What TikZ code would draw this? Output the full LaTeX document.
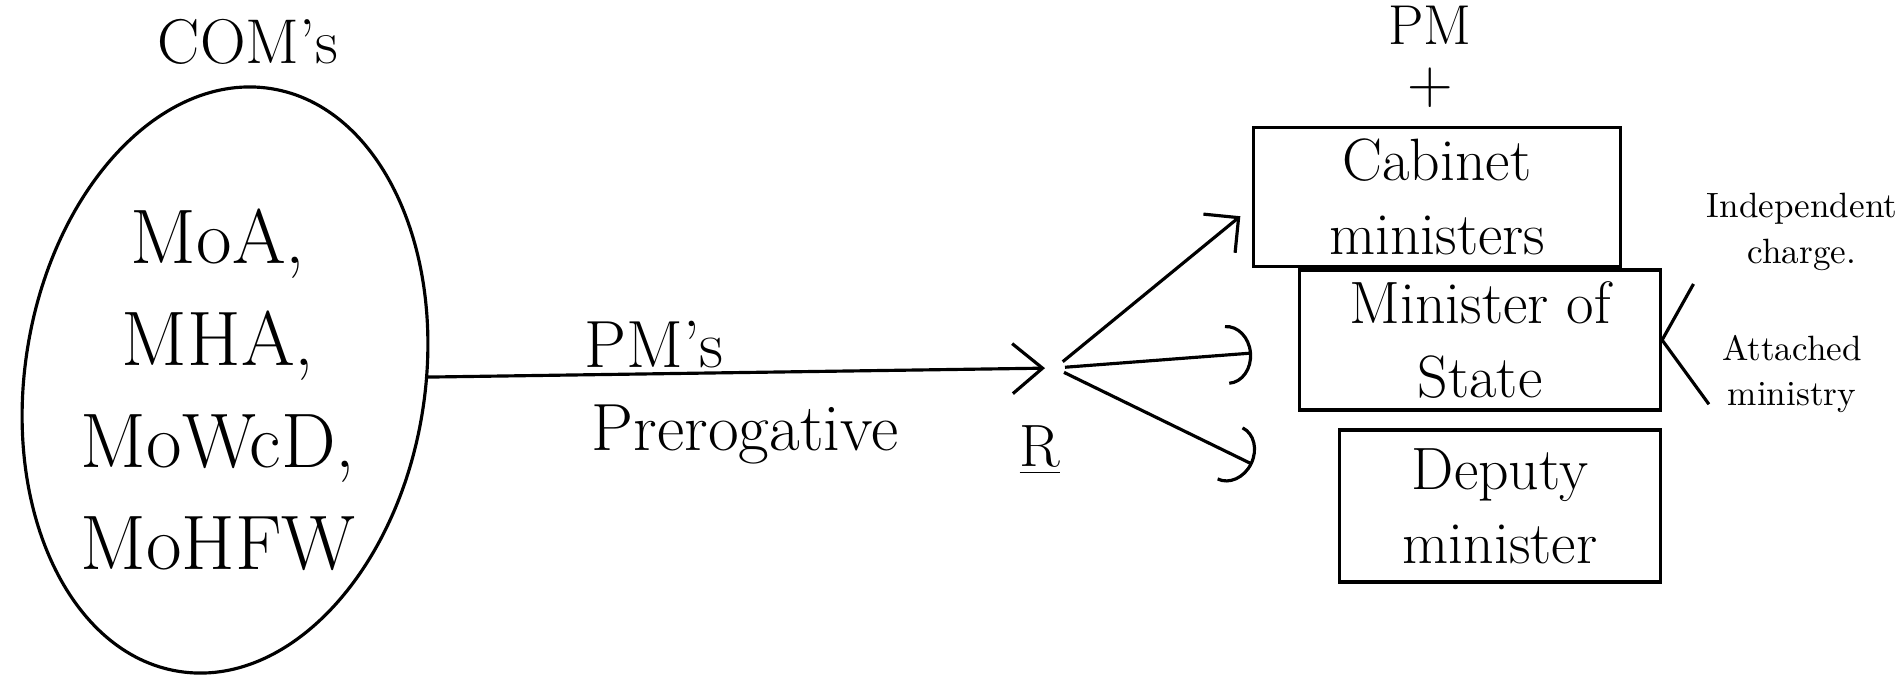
\documentclass[tikz,border=0pt]{standalone}
\usepackage{tikz}
\usetikzlibrary{arrows.meta,positioning,shapes.geometric}
\tikzset{
  mins box/.style={draw, line width=0.9pt, align=center, font=\fontsize{17}{21}\selectfont},
  mins edge/.style={-{Arc Barb[length=2.5mm,width=6mm]}, line width=0.9pt, shorten <=1mm},
  mins label/.style={font=\fontsize{19}{23}\selectfont},
  side note/.style={align=center, font=\fontsize{10}{13}\selectfont},
}

\begin{document}
\begin{tikzpicture}[line width=0.9pt]
  \useasboundingbox (0,0) rectangle (19,-6.78);
  % council of ministers
  \node[draw, ellipse, rotate=-9, minimum width=4.0cm, minimum height=5.9cm] (com) at (2.25,-3.80) {};
  \node[align=center, font=\fontsize{22}{29}\selectfont] (comlist) at (2.18,-3.90) {MoA,\\MHA,\\MoWcD,\\MoHFW};
  \node[font=\fontsize{18}{22}\selectfont] (comtitle) at (2.48,-0.42) {COM's};
  \coordinate (hub) at (10.55,-3.68);
  \draw[-{Straight Barb[length=3mm,width=5mm]}, shorten >=1mm] (com) -- (hub);
  \node[mins label] (pmlabel) at (6.54,-3.45) {PM's};
  \node[mins label] (prerog) at (7.45,-4.34) {Prerogative};
  \node[font=\fontsize{17}{21}\selectfont] (rlabel) at (10.40,-4.50) {\underline{R}};
  % ministers
  \node[font=\fontsize{16}{20}\selectfont] (pm) at (14.30,-0.25) {PM};
  \node[font=\fontsize{18}{22}\selectfont] (plus) at (14.30,-0.88) {+};
  \node[mins box, minimum width=3.67cm, minimum height=1.28cm] (cab) at (14.37,-1.97) {Cabinet\\ministers};
  \node[mins box, minimum width=3.61cm, minimum height=1.19cm] (mos) at (14.80,-3.40) {Minister of\\State};
  \node[mins box, minimum width=3.21cm, minimum height=1.52cm] (dep) at (15.00,-5.06) {Deputy\\minister};
  \draw[-{Straight Barb[length=2.5mm,width=5mm]}, shorten <=1mm, shorten >=1.5mm] (hub) -- (cab.183);
  \draw[mins edge, shorten >=4.6mm] (hub) -- (mos.183);
  \draw[mins edge, shorten >=9.5mm] (hub) -- (dep.west);
  % kinds of MoS
  \node[side note] (indep) at (18.02,-2.32) {Independent\\charge.};
  \node[side note] (attach) at (17.92,-3.74) {Attached\\ministry};
  \draw (mos.east) -- (indep.south west);
  \draw (mos.east) -- (attach.200);
\end{tikzpicture}
\end{document}
